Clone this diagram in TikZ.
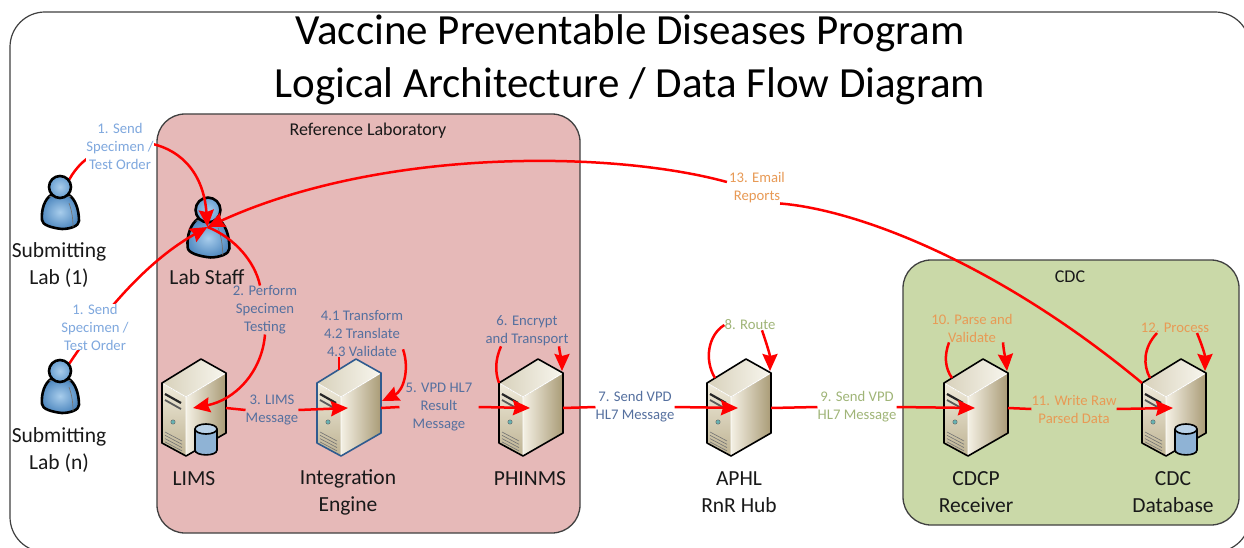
\documentclass[tikz,border=0pt]{standalone}
\usepackage{fontspec}
\setmainfont{Carlito}
\usetikzlibrary{arrows.meta,calc}
\definecolor{refbg}{HTML}{E6B9B8}
\definecolor{cdcbg}{HTML}{CAD9A8}
\definecolor{flowred}{HTML}{FF0000}
\definecolor{lblblue}{HTML}{7FA8DE}
\definecolor{lblnavy}{HTML}{55709F}
\definecolor{lblgreen}{HTML}{A0B578}
\definecolor{lblorange}{HTML}{E89A55}
\definecolor{frameclr}{HTML}{404040}
\definecolor{srvtopa}{HTML}{D8D1BB}
\definecolor{srvtopb}{HTML}{F8F6EE}
\definecolor{srvfronta}{HTML}{F0EBDB}
\definecolor{srvfrontb}{HTML}{BDB292}
\definecolor{srvsidea}{HTML}{F4F0E4}
\definecolor{srvsideb}{HTML}{A99B76}
\definecolor{cyledge}{HTML}{8FB3D5}
\definecolor{cyltop}{HTML}{B9D1E7}
\definecolor{headin}{HTML}{A9CCEA}
\definecolor{headout}{HTML}{689FD2}
\definecolor{bodyin}{HTML}{A8CDEC}
\definecolor{bodyout}{HTML}{5089C0}
\definecolor{intedge}{HTML}{2F5B8F}
\tikzset{
  flow/.style={draw=flowred,line width=2.5pt,line cap=butt},
  flowarr/.style={flow,-{Stealth[length=17pt,width=15pt,inset=2pt]}},
  lbl/.style={inner sep=0pt,align=center,font=\fontsize{14.7}{18}\selectfont},
  biglbl/.style={inner sep=0pt,align=center,font=\fontsize{21.5}{27}\selectfont,text=black!90},
  boxlbl/.style={inner sep=0pt,font=\fontsize{18}{18}\selectfont,text=black!90},
  zone/.style={draw=black!75,line width=1.3pt,rounded corners=28pt},
  pics/server/.style={code={
    \fill[top color=srvfronta,bottom color=srvfrontb] (-31,-25) -- (-7,-11) -- (-7,48) -- (-31,35) -- cycle;
    \fill[left color=srvsidea,right color=srvsideb] (-7,-11) -- (33,-35) -- (33,25) -- (-7,48) -- cycle;
    \fill[left color=srvtopa,right color=srvtopb] (-31,-25) -- (8,-49) -- (33,-35) -- (-7,-11) -- cycle;
    \draw[white,line width=0.8pt] (-31,-25) -- (-7,-11) -- (33,-35) (-7,-11) -- (-7,48);
    \draw[black!85,line width=2.2pt] (-28,-14) -- (-12,-5);
    \draw[black!65,line width=1.8pt] (-28,-8) -- (-12,1);
    \fill[teal!60,draw=black!60,line width=0.4pt] (-20,14) circle (2.2);
    \foreach \vv in {24,27.3,30.6,33.9}{\draw[black!55,line width=0.6pt] (-28,\vv) -- (-11,\vv+9);}
    \draw[#1,line width=1.6pt,line join=round] (-31,-25) -- (8,-49) -- (33,-35) -- (33,25) -- (-7,48) -- (-31,35) -- cycle;
    \coordinate (-c) at (0,0);
    \coordinate (-e) at (33,0);
    \coordinate (-lt) at (-31,-25);
    \coordinate (-lu) at (-23,-30);
    \coordinate (-t) at (-9,-38);
    \coordinate (-rt) at (32,-37);
    \coordinate (-rf) at (34,-7);
  }},
  pics/server/.default=black,
  pics/dbcyl/.style={code={
    \fill[left color=cyledge,middle color=white,right color=cyledge] (2,21) -- (2,42) .. controls (2,48.5) and (24,48.5) .. (24,42) -- (24,21) -- cycle;
    \draw[black,line width=1.6pt] (2,21) -- (2,42) .. controls (2,48.5) and (24,48.5) .. (24,42) -- (24,21);
    \draw[black,line width=1.6pt,fill=cyltop] (13,21) ellipse[x radius=11,y radius=5];
  }},
  pics/person/.style={code={
    \draw[black,line width=2.6pt,line join=round,inner color=bodyin,outer color=bodyout] (-9,8) .. controls (-15,12) and (-19,22) .. (-18,33) .. controls (-18,38) and (-8,41) .. (2,42) .. controls (10,42) and (19,39) .. (19,34) .. controls (19,22) and (15,12) .. (9,8) -- cycle;
    \draw[black!55,line width=0.7pt] (9,16) .. controls (12,24) and (13,32) .. (13,40);
    \draw[black!55,line width=0.7pt] (-11,10) .. controls (-4,7) and (4,7) .. (11,10);
    \draw[black,line width=2.6pt,inner color=headin,outer color=headout] (0,0) circle (11);
  }},
}
\begin{document}
\begin{tikzpicture}[x=1pt,y=-1pt]
\useasboundingbox (0,0) rectangle (1244,548);
\fill[white] (0,0) rectangle (1244,548);
\begin{scope}
\clip (0,12.5) rectangle (1244,548);
\node[inner sep=0pt,align=center,font=\fontsize{43}{53}\selectfont,text=black] (title) at (630,60) {Vaccine Preventable Diseases Program\\Logical Architecture / Data Flow Diagram};
\end{scope}
\draw[frameclr,line width=1.2pt,rounded corners=35pt] (10,12) rectangle (1250,552);
% zones
\draw[zone,fill=refbg] (157,114) rectangle (580,533);
\draw[zone,fill=cdcbg] (903,260) rectangle (1239,525);
\node[boxlbl] (reflab) at (368,131) {Reference Laboratory};
\node[boxlbl] (cdczone) at (1070,277) {CDC};
% servers
\pic (lims) at (193,408) {server};
\pic (limsdb) at (193,408) {dbcyl};
\pic (int) at (348,408) {server={intedge}};
\pic (phinms) at (530,408) {server};
\pic (aphl) at (738,408) {server};
\pic (cdcp) at (975,408) {server};
\pic (cdcdb) at (1173,408) {server};
\pic (cdcdbc) at (1173,408) {dbcyl};
\pic[scale=1.13] (staff) at (208,210) {person};
% big labels
\node[biglbl] (nsubone) at (59,265.5) {Submitting\\Lab (1)};
\node[biglbl] (nsubn) at (59,450.5) {Submitting\\Lab (n)};
\node[biglbl] (nstaff) at (207,277.5) {Lab Staff};
\node[biglbl] (nlims) at (194,478.5) {LIMS};
\node[biglbl] (nint) at (348,492.5) {Integration\\Engine};
\node[biglbl] (nphin) at (530,478.5) {PHINMS};
\node[biglbl] (naphl) at (739,492.5) {APHL\\RnR Hub};
\node[biglbl] (ncdcp) at (976,492.5) {CDCP\\Receiver};
\node[biglbl] (ncdcdb) at (1173,492.5) {CDC\\Database};
% step labels
\node[lbl,text=lblnavy] (ltwo) at (265,310) {2. Perform\\Specimen\\Testing};
\node[lbl,text=lblnavy] (lthree) at (272,410) {3. LIMS\\Message};
\node[lbl,text=lblnavy] (lfour) at (362,334) {4.1 Transform\\4.2 Translate\\4.3 Validate};
\node[lbl,text=lblnavy,inner xsep=6pt] (lfive) at (439,407) {5. VPD HL7\\Result\\Message};
\node[lbl,text=lblnavy] (lsix) at (527,331) {6. Encrypt\\and Transport};
\node[lbl,text=lblnavy] (lseven) at (635,407) {7. Send VPD\\HL7 Message};
\node[lbl,text=lblgreen] (leight) at (750,325) {8. Route};
\node[lbl,text=lblgreen] (lnine) at (857,407) {9. Send VPD\\HL7 Message};
\node[lbl,text=lblorange] (lten) at (972,328) {10. Parse and\\Validate};
\node[lbl,text=lblorange] (leleven) at (1074,409) {11. Write Raw\\Parsed Data};
\node[lbl,text=lblorange] (ltwelve) at (1175,328) {12. Process};
\node[lbl,text=lblorange] (lthirteen) at (757,188) {13. Email\\Reports};
% curves that pass under a filled label
\coordinate (subonecorner) at (69,180);
\coordinate (subncorner) at (69,364);
\coordinate (staffhub) at (207.5,227);
\draw[flowarr] (subonecorner) .. controls (98,125) and (200,125) .. (staffhub);
\draw[flowarr] (subncorner) .. controls (95,325) and (140,265) .. (staffhub);
\node[lbl,text=lblblue,fill=white] (loneA) at (120,146) {1. Send\\Specimen /\\Test Order};
\node[lbl,text=lblblue,fill=white] (loneB) at (95,327) {1. Send\\Specimen /\\Test Order};
\pic (subone) at (60,187) {person};
\pic (subn) at (60,371) {person};
% connectors
\draw[flow] (staffhub) .. controls (235,238) and (255,262) .. ([xshift=-5pt]ltwo.north);
\draw[flowarr] (ltwo.south) .. controls (262,372) and (235,400) .. (lims-c);
\draw[flow] (lims-e) -- (lthree.west);
\draw[flowarr] (lthree.east) -- (int-c);
\draw[flow] (int-t) -- (int-t |- lfour.south);
\draw[flowarr] ([xshift=41pt,yshift=8pt]lfour.south) .. controls (410,370) and (403,391) .. (int-rf);
\draw[flow] (int-e) -- (lfive.west);
\draw[flowarr] (lfive.east) -- (phinms-c);
\draw[flow] (phinms-lt) .. controls (495,372) and (495,360) .. ([xshift=-26pt]lsix.south);
\draw[flowarr] ([xshift=32pt]lsix.south) .. controls (560,355) and (562,362) .. (phinms-rt);
\draw[flow] (phinms-e) -- (lseven.west);
\draw[flowarr] (lseven.east) -- (aphl-c);
\draw[flow] (aphl-lu) .. controls (704,360) and (708,335) .. (leight.west);
\draw[flowarr] ([xshift=12pt]leight.south) .. controls (767,345) and (770,355) .. (aphl-rt);
\draw[flow] (aphl-e) -- (lnine.west);
\draw[flowarr] (lnine.east) -- (cdcp-c);
\draw[flow] (cdcp-lu) .. controls (945,368) and (944,356) .. ([xshift=-23pt]lten.south);
\draw[flowarr] ([xshift=31pt]lten.south) .. controls (1004,355) and (1006,360) .. (cdcp-rt);
\draw[flow] (cdcp-e) -- (leleven.west);
\draw[flowarr] (leleven.east) -- (cdcdb-c);
\draw[flow] (cdcdb-lu) .. controls (1143,365) and (1143,348) .. ([xshift=-18pt]ltwelve.south);
\draw[flowarr] ([xshift=22pt]ltwelve.south) .. controls (1202,345) and (1205,355) .. (cdcdb-rt);
\draw[flow] (cdcdb-lt) .. controls (1000,265) and (860,210) .. ([xshift=-5pt]lthirteen.south east);
\draw[flowarr] ([xshift=-2pt,yshift=6pt]lthirteen.west) .. controls (610,150) and (380,148) .. (staffhub);
\end{tikzpicture}
\end{document}
